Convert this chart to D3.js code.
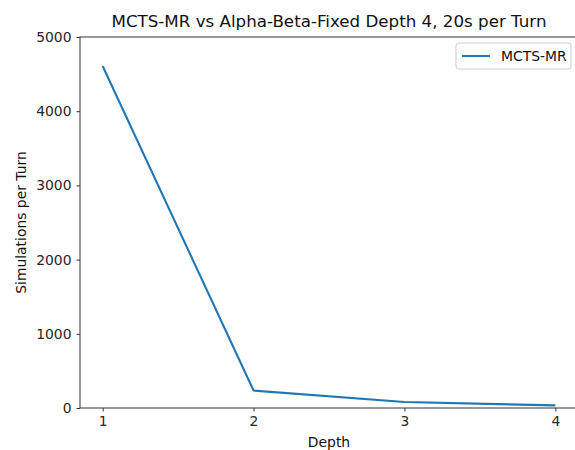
<!DOCTYPE html>
<html>
<head>
<meta charset="utf-8">
<script src="https://cdn.jsdelivr.net/npm/d3@7"></script>
<style>
  body { margin: 0; background: #fff; }
  svg { font-family: "DejaVu Sans", sans-serif; }
</style>
</head>
<body>
<div id="chart"></div>
<script>
// DATA
var depths = [1, 2, 3, 4];
var simulations = [4610, 235, 80, 35];
var yTicks = [0, 1000, 2000, 3000, 4000, 5000];
var seriesName = "MCTS-MR";

var svgWidth = 575;
var svgHeight = 450;
var margins = { top: 37, bottom: 42, left: 80, right: -3 };
var width = svgWidth - margins.left - margins.right;
var height = svgHeight - margins.top - margins.bottom;

var svg = d3.select("#chart")
    .append("svg")
    .attr("width", svgWidth)
    .attr("height", svgHeight);

var g = svg.append("g")
    .attr("transform", "translate(" + margins.left + "," + margins.top + ")");

// Scales (matplotlib-style 5% x padding)
var pad = (d3.max(depths) - d3.min(depths)) * 0.05;
var x = d3.scaleLinear()
    .domain([d3.min(depths) - pad, d3.max(depths) + pad])
    .range([0, width]);
var y = d3.scaleLinear()
    .domain([0, 5000])
    .range([height, 0]);

// Axes
var xAxis = g.append("g")
    .attr("transform", "translate(0," + height + ")")
    .call(d3.axisBottom(x).tickValues(depths).tickFormat(d3.format("d")).tickSize(3.5).tickPadding(5));
var yAxis = g.append("g")
    .call(d3.axisLeft(y).tickValues(yTicks).tickFormat(d3.format("d")).tickSize(3.5).tickPadding(5));

[xAxis, yAxis].forEach(function(a) {
    a.selectAll("text").attr("font-size", "13.9px").attr("fill", "#262626")
        .attr("font-family", "DejaVu Sans, sans-serif");
    a.selectAll("line").attr("stroke", "#333").attr("stroke-width", 1);
    a.select(".domain").remove();
});

// Frame
g.append("rect")
    .attr("x", 0).attr("y", 0)
    .attr("width", width).attr("height", height)
    .attr("fill", "none")
    .attr("stroke", "#333")
    .attr("stroke-width", 1);

// Line
g.append("path")
    .datum(depths.map(function(d, i) { return { depth: d, sims: simulations[i] }; }))
    .attr("fill", "none")
    .attr("stroke", "#1f77b4")
    .attr("stroke-width", 2.08)
    .attr("stroke-linejoin", "round")
    .attr("d", d3.line()
        .x(function(d) { return x(d.depth); })
        .y(function(d) { return y(d.sims); }));

// Title and labels
svg.append("text")
    .attr("x", margins.left + width / 2)
    .attr("y", 27)
    .attr("text-anchor", "middle")
    .attr("font-size", "16.7px")
    .attr("fill", "#111")
    .text("MCTS-MR vs Alpha-Beta-Fixed Depth 4, 20s per Turn");

svg.append("text")
    .attr("x", margins.left + width / 2)
    .attr("y", 447)
    .attr("text-anchor", "middle")
    .attr("font-size", "13.9px")
    .attr("fill", "#111")
    .text("Depth");

svg.append("text")
    .attr("transform", "translate(26," + (margins.top + height / 2) + ") rotate(-90)")
    .attr("text-anchor", "middle")
    .attr("font-size", "13.9px")
    .attr("fill", "#111")
    .text("Simulations per Turn");

// Legend
var legend = svg.append("g").attr("transform", "translate(456,43)");
legend.append("rect")
    .attr("width", 115).attr("height", 26)
    .attr("rx", 3)
    .attr("fill", "#fff")
    .attr("stroke", "#ccc");
legend.append("line")
    .attr("x1", 6).attr("x2", 34)
    .attr("y1", 13).attr("y2", 13)
    .attr("stroke", "#1f77b4")
    .attr("stroke-width", 2.08);
legend.append("text")
    .attr("x", 45).attr("y", 18)
    .attr("font-size", "13.9px")
    .attr("fill", "#111")
    .text(seriesName);
</script>
</body>
</html>
